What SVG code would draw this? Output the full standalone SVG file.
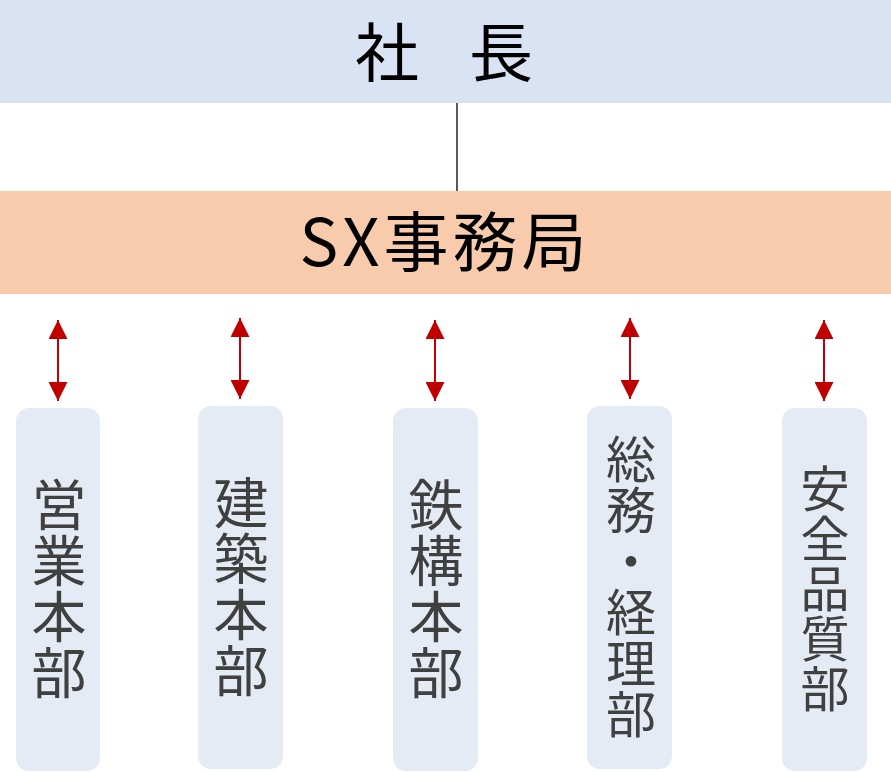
<svg xmlns="http://www.w3.org/2000/svg" width="891" height="772" viewBox="0 0 891 772">
<style>
.t{font-family:"Noto Sans CJK JP","Noto Sans",sans-serif;text-anchor:middle}
.big{font-size:64px;fill:#000}
.dept{fill:#e4ebf5}
.dt{fill:#404040;writing-mode:vertical-rl;letter-spacing:1px}
.arr{stroke:#c00000;stroke-width:2;marker-start:url(#ah);marker-end:url(#ah)}
</style>
<defs>
<marker id="ah" viewBox="0 0 10 10" refX="10" refY="5" markerWidth="9.5" markerHeight="9.5" markerUnits="strokeWidth" orient="auto-start-reverse">
<path d="M0,0 L10,5 L0,10 Z" fill="#c00000"/>
</marker>
</defs>
<g id="president">
<rect x="0" y="0" width="891" height="103" fill="#dae3f3"/>
<text class="t big" x="387" y="76">社</text>
<text class="t big" x="501" y="76">長</text>
</g>
<g id="sx-office">
<rect x="0" y="191" width="891" height="103" fill="#f8cbad"/>
<text class="t big" x="445" y="266" style="font-size:65px;letter-spacing:4px">SX事務局</text>
</g>
<g id="connectors">
<line x1="457" y1="103" x2="457" y2="191" stroke="#000" stroke-width="1.3"/>
<line class="arr" x1="58" y1="320" x2="58" y2="401"/>
<line class="arr" x1="240" y1="318" x2="240" y2="399"/>
<line class="arr" x1="435" y1="320" x2="435" y2="401"/>
<line class="arr" x1="630" y1="318" x2="630" y2="399"/>
<line class="arr" x1="824" y1="320" x2="824" y2="401"/>
</g>
<g id="sales">
<rect class="dept" x="16" y="408" width="84" height="363" rx="13"/>
<text class="t dt" x="59" y="589" style="font-size:55px">営業本部</text>
</g>
<g id="architecture">
<rect class="dept" x="198" y="406" width="85" height="363" rx="13"/>
<text class="t dt" x="241" y="587" style="font-size:55px">建築本部</text>
</g>
<g id="steel">
<rect class="dept" x="393" y="408" width="85" height="363" rx="13"/>
<text class="t dt" x="436" y="589" style="font-size:55px">鉄構本部</text>
</g>
<g id="general-affairs">
<rect class="dept" x="587" y="406" width="85" height="363" rx="13"/>
<text class="t dt" x="631" y="587" style="font-size:50px">総務・経理部</text>
</g>
<g id="safety-quality">
<rect class="dept" x="782" y="408" width="85" height="363" rx="13"/>
<text class="t dt" x="825" y="589" style="font-size:49px">安全品質部</text>
</g>
</svg>
